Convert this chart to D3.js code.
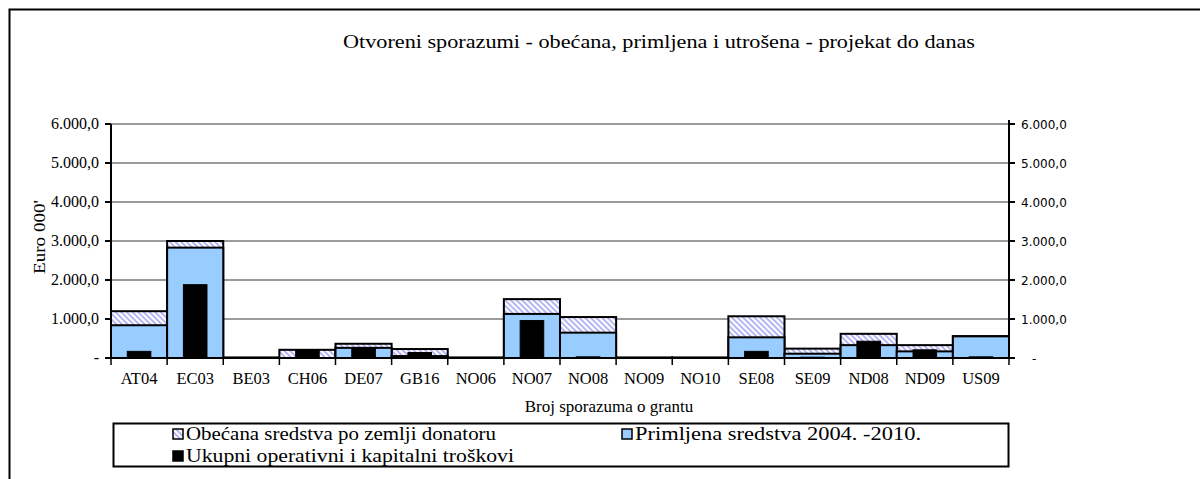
<!DOCTYPE html>
<html>
<head>
<meta charset="utf-8">
<script src="https://cdn.jsdelivr.net/npm/d3@7"></script>
<style>
    body { margin: 0; background: #fff; }
    svg { display: block; }
</style>
</head>
<body>
<div id="chart"></div>
<script>
const categories = ["AT04", "EC03", "BE03", "CH06", "DE07", "GB16", "NO06", "NO07", "NO08", "NO09", "NO10", "SE08", "SE09", "ND08", "ND09", "US09"];
const pledged = [1200, 3000, 15, 210, 365, 230, 15, 1510, 1050, 15, 15, 1070, 240, 620, 330, 560];
const received = [840, 2830, 0, 0, 260, 50, 0, 1130, 650, 0, 0, 530, 110, 330, 170, 555];
const spent = [170, 1880, 0, 200, 270, 140, 0, 960, 30, 0, 0, 170, 20, 430, 210, 30];
const yTicks = [0, 1000, 2000, 3000, 4000, 5000, 6000];
const legendLabels = ["Obećana sredstva po zemlji donatoru", "Primljena sredstva 2004. -2010.", "Ukupni operativni i kapitalni troškovi"];

const width = 1200;
const height = 479;
const plot = { left: 111, right: 1009, top: 124, bottom: 358 };
const serif = "'Liberation Serif', 'Times New Roman', serif";
const sans = "'DejaVu Sans', Tahoma, sans-serif";

const svg = d3.select("#chart")
    .append("svg")
    .attr("width", width)
    .attr("height", height);

// hatch pattern for the pledged series
const defs = svg.append("defs");
const hatch = defs.append("pattern")
    .attr("id", "hatch")
    .attr("patternUnits", "userSpaceOnUse")
    .attr("width", 4)
    .attr("height", 4)
    .attr("patternTransform", "rotate(-45)");
hatch.append("rect").attr("width", 4).attr("height", 4).attr("fill", "#fff");
hatch.append("line")
    .attr("x1", 1).attr("y1", 0).attr("x2", 1).attr("y2", 4)
    .attr("stroke", "#8f8ff0")
    .attr("stroke-width", 1.3);

// outer frame
svg.append("path")
    .attr("d", `M9.5,${height + 5} V9.5 H${width + 5}`)
    .attr("fill", "none")
    .attr("stroke", "#000")
    .attr("stroke-width", 2);

svg.append("text")
    .attr("x", 659)
    .attr("y", 48)
    .attr("text-anchor", "middle")
    .attr("textLength", 632)
    .attr("lengthAdjust", "spacingAndGlyphs")
    .style("font-family", serif)
    .style("font-size", "19px")
    .text("Otvoreni sporazumi - obećana, primljena i utrošena - projekat do danas");

const x = d3.scaleBand()
    .domain(categories)
    .range([plot.left, plot.right])
    .padding(0);

const y = d3.scaleLinear()
    .domain([0, 6000])
    .range([plot.bottom, plot.top]);

const fmt = v => v === 0 ? "-" : d3.format(",.1f")(v).replace(/,/g, "#").replace(".", ",").replace(/#/g, ".");

// gridlines
svg.append("g")
    .selectAll("line")
    .data(yTicks.filter(d => d > 0))
    .enter().append("line")
    .attr("x1", plot.left)
    .attr("x2", plot.right)
    .attr("y1", d => y(d))
    .attr("y2", d => y(d))
    .attr("stroke", "#7a7a7a")
    .attr("stroke-width", 1.5);

const rows = categories.map((c, i) => ({ c, p: pledged[i], r: received[i], s: spent[i] }));
const bw = x.bandwidth();

// pledged (hatched)
svg.append("g")
    .selectAll("rect")
    .data(rows)
    .enter().append("rect")
    .attr("x", d => x(d.c))
    .attr("y", d => y(d.p))
    .attr("width", bw)
    .attr("height", d => y(0) - y(d.p))
    .attr("fill", "url(#hatch)")
    .attr("stroke", "#000")
    .attr("stroke-width", 2);

// received (light blue)
svg.append("g")
    .selectAll("rect")
    .data(rows.filter(d => d.r > 0))
    .enter().append("rect")
    .attr("x", d => x(d.c))
    .attr("y", d => y(d.r))
    .attr("width", bw)
    .attr("height", d => y(0) - y(d.r))
    .attr("fill", "#99ccff")
    .attr("stroke", "#000")
    .attr("stroke-width", 2);

// spent (black, narrower)
svg.append("g")
    .selectAll("rect")
    .data(rows.filter(d => d.s > 0))
    .enter().append("rect")
    .attr("x", d => x(d.c) + bw * 0.29)
    .attr("y", d => y(d.s))
    .attr("width", bw * 0.42)
    .attr("height", d => y(0) - y(d.s))
    .attr("fill", "#000")
    .attr("stroke", "#000")
    .attr("stroke-width", 1);

// axes lines
const axisG = svg.append("g").attr("stroke", "#000").attr("stroke-width", 2);
axisG.append("line").attr("x1", plot.left).attr("x2", plot.left).attr("y1", plot.top).attr("y2", plot.bottom + 1);
axisG.append("line").attr("x1", plot.right).attr("x2", plot.right).attr("y1", plot.top - 4).attr("y2", plot.bottom + 1);
axisG.append("line").attr("x1", plot.left - 6).attr("x2", plot.right + 6).attr("y1", plot.bottom).attr("y2", plot.bottom);

// tick marks
axisG.selectAll(".lt").data(yTicks).enter().append("line")
    .attr("x1", plot.left - 6).attr("x2", plot.left)
    .attr("y1", d => y(d)).attr("y2", d => y(d));
axisG.selectAll(".rt").data(yTicks).enter().append("line")
    .attr("x1", plot.right).attr("x2", plot.right + 6)
    .attr("y1", d => y(d)).attr("y2", d => y(d));
axisG.selectAll(".bt").data(categories.concat(["end"])).enter().append("line")
    .attr("x1", (d, i) => plot.left + i * bw).attr("x2", (d, i) => plot.left + i * bw)
    .attr("y1", plot.bottom).attr("y2", plot.bottom + 7)
    .attr("stroke-width", 1.5);

// left tick labels
svg.append("g")
    .selectAll("text")
    .data(yTicks)
    .enter().append("text")
    .attr("x", 99)
    .attr("y", d => y(d) + 5)
    .attr("text-anchor", "end")
    .style("font-family", serif)
    .style("font-size", "16px")
    .text(d => fmt(d));

// right tick labels
svg.append("g")
    .selectAll("text")
    .data(yTicks)
    .enter().append("text")
    .attr("x", d => d === 0 ? 1032 : 1021)
    .attr("y", d => y(d) + 5)
    .style("font-family", sans)
    .style("font-size", "12px")
    .text(d => fmt(d));

// category labels
svg.append("g")
    .selectAll("text")
    .data(categories)
    .enter().append("text")
    .attr("x", d => x(d) + bw / 2)
    .attr("y", 384)
    .attr("text-anchor", "middle")
    .style("font-family", serif)
    .style("font-size", "16.5px")
    .text(d => d);

svg.append("text")
    .attr("x", 609)
    .attr("y", 412)
    .attr("text-anchor", "middle")
    .style("font-family", serif)
    .style("font-size", "17px")
    .text("Broj sporazuma o grantu");

svg.append("text")
    .attr("transform", "translate(45,237) rotate(-90)")
    .attr("text-anchor", "middle")
    .attr("textLength", 74)
    .attr("lengthAdjust", "spacingAndGlyphs")
    .style("font-family", serif)
    .style("font-size", "17px")
    .text("Euro 000'");

// legend
svg.append("rect")
    .attr("x", 113.5)
    .attr("y", 423.5)
    .attr("width", 895)
    .attr("height", 43)
    .attr("fill", "#fff")
    .attr("stroke", "#000")
    .attr("stroke-width", 2);

const legendItems = [
    { label: legendLabels[0], fill: "url(#hatch)", x: 173, y: 434, len: 310 },
    { label: legendLabels[1], fill: "#99ccff", x: 622, y: 434, len: 286 },
    { label: legendLabels[2], fill: "#000", x: 173, y: 456, len: 328 }
];

const li = svg.append("g")
    .selectAll("g")
    .data(legendItems)
    .enter().append("g");

li.append("rect")
    .attr("x", d => d.x)
    .attr("y", d => d.y - 5)
    .attr("width", 10)
    .attr("height", 10)
    .attr("fill", d => d.fill)
    .attr("stroke", "#000")
    .attr("stroke-width", 1.5);

li.append("text")
    .attr("x", d => d.x + 13)
    .attr("y", d => d.y + 6)
    .attr("textLength", d => d.len)
    .attr("lengthAdjust", "spacingAndGlyphs")
    .style("font-family", serif)
    .style("font-size", "18px")
    .text(d => d.label);
</script>
</body>
</html>
